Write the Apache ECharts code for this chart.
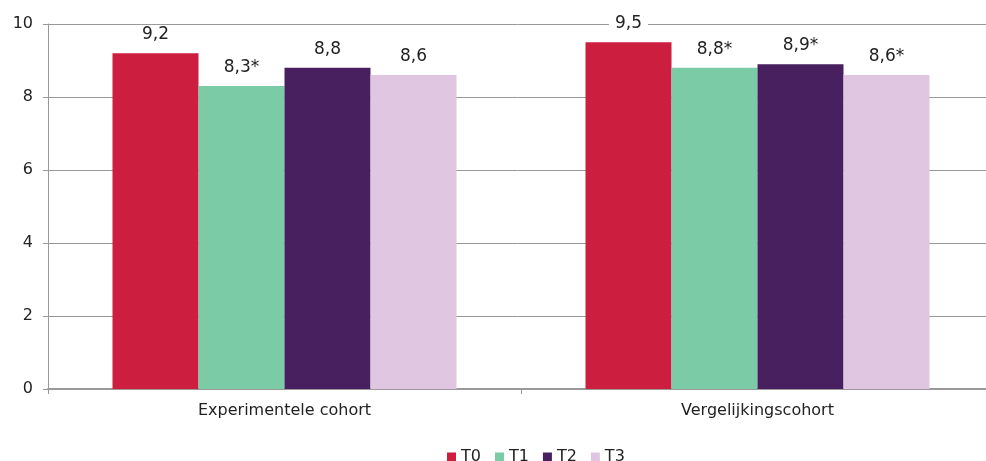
<!DOCTYPE html>
<html>
<head>
<meta charset="utf-8">
<script src="https://cdn.jsdelivr.net/npm/echarts@6/dist/echarts.min.js"></script>
<style>html,body{margin:0;padding:0;background:#fff}#c{width:986px;height:461px}</style>
</head>
<body>
<div id="c"></div>
<script>
const categories = ['Experimentele cohort', 'Vergelijkingscohort'];
const seriesNames = ['T0', 'T1', 'T2', 'T3'];
const T0 = [9.2, 9.5];
const T1 = [8.3, 8.8];
const T2 = [8.8, 8.9];
const T3 = [8.6, 8.6];
const T0Labels = ['9,2', '9,5'];
const T1Labels = ['8,3*', '8,8*'];
const T2Labels = ['8,8', '8,9*'];
const T3Labels = ['8,6', '8,6*'];
const yTicks = [0, 2, 4, 6, 8, 10];

const colors = ['#CC1E3E', '#7BCBA7', '#482060', '#E0C6E0'];
const values = [T0, T1, T2, T3];
const labels = [T0Labels, T1Labels, T2Labels, T3Labels];
const FONT = 'DejaVu Sans';

const chart = echarts.init(document.getElementById('c'));
chart.setOption({
  animation: false,
  color: colors,
  textStyle: { fontFamily: FONT },
  grid: { left: 48, width: 946, top: 24, height: 365, containLabel: false, outerBoundsMode: 'none' },
  legend: {
    data: seriesNames,
    left: 442, top: 444,
    itemWidth: 9, itemHeight: 9, itemGap: 14,
    icon: 'rect',
    textStyle: { fontFamily: FONT, fontSize: 16, color: '#222' }
  },
  xAxis: {
    type: 'category',
    data: categories,
    axisLine: { lineStyle: { color: '#999', width: 2 } },
    axisTick: { show: true, length: 5, lineStyle: { color: '#999' } },
    axisLabel: { fontFamily: FONT, fontSize: 16, color: '#222', margin: 14 }
  },
  yAxis: {
    type: 'value',
    min: 0, max: 10, interval: 2,
    axisLine: { show: true, lineStyle: { color: '#999' } },
    axisTick: { show: true, length: 5, lineStyle: { color: '#999' } },
    splitLine: { lineStyle: { color: '#999' } },
    axisLabel: { fontFamily: FONT, fontSize: 16, color: '#222', margin: 15,
      formatter: v => yTicks.includes(v) ? String(v) : '' }
  },
  series: seriesNames.map((n, i) => ({
    name: n,
    type: 'bar',
    data: values[i],
    barWidth: 86,
    barGap: '0%',
    itemStyle: { color: colors[i] },
    label: {
      show: true, position: 'top', distance: 10,
      fontFamily: FONT, fontSize: 17, color: '#222',
      backgroundColor: '#fff', padding: [0, 6],
      formatter: p => labels[i][p.dataIndex]
    }
  }))
});
</script>
</body>
</html>
